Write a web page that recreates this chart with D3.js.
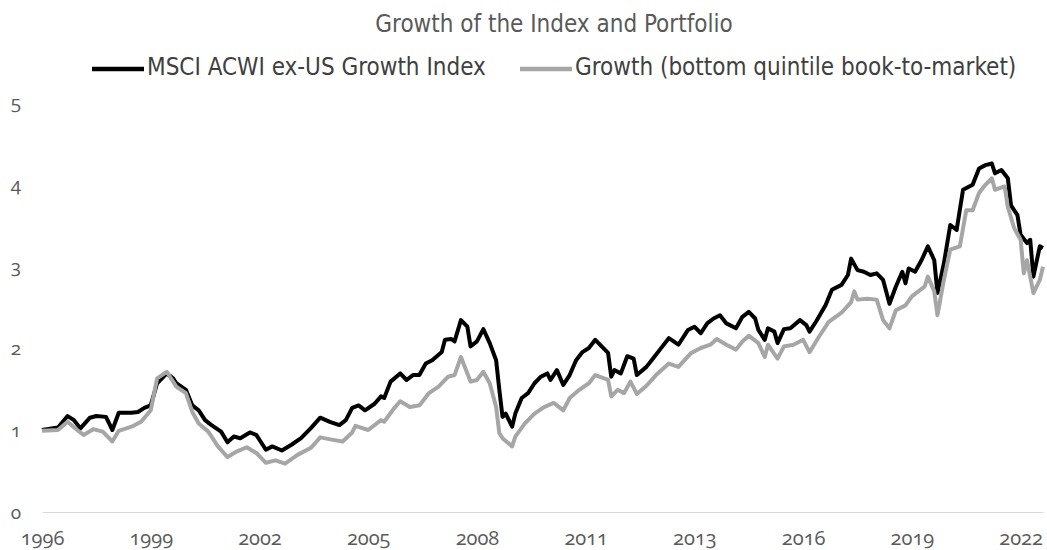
<!DOCTYPE html>
<html>
<head>
<meta charset="utf-8">
<script src="https://cdn.jsdelivr.net/npm/d3@7/dist/d3.min.js"></script>
<style>
  html, body { margin: 0; padding: 0; background: #fff; }
  #chart { width: 1047px; height: 550px; }
  .lbl { font-family: "Open Sans", "Noto Sans", Lato, sans-serif; font-variant-numeric: oldstyle-nums; font-feature-settings: "onum" 1; fill: #595959; }
  .txt { font-family: "DejaVu Sans Condensed", "DejaVu Sans", sans-serif; font-stretch: condensed; }
</style>
</head>
<body>
<div id="chart"></div>
<script>
// Months counted from the first observation (late 1996)
const TOTAL_MONTHS = 313;

// Axis ticks: one label every 34 months
const tickMonths = [0, 34, 68, 102, 136, 170, 204, 238, 272, 306];
const tickLabels = ["1996", "1999", "2002", "2005", "2008", "2011", "2013", "2016", "2019", "2022"];
const yTicks = [0, 1, 2, 3, 4, 5];

const seriesNames = ["MSCI ACWI ex-US Growth Index", "Growth (bottom quintile book-to-market)"];

// MSCI ACWI ex-US Growth Index (growth of $1)
const indexMonths = [0, 5, 8, 10, 12, 15, 17, 20, 22, 24, 28, 30, 32, 34, 36, 39, 41, 42, 45, 47,
  49, 51, 53, 56, 58, 60, 62, 65, 67, 69, 70, 72, 75, 78, 81, 84, 87, 90, 93, 95,
  97, 99, 101, 104, 106, 107, 109, 112, 114, 116, 118, 120, 122, 125, 126, 128, 129, 131, 133, 134,
  136, 138, 140, 142, 143, 144, 145, 147, 148, 150, 152, 154, 156, 158, 159, 161, 163, 165, 167, 169,
  171, 173, 175, 177, 178, 179, 181, 183, 185, 186, 189, 191, 194, 196, 199, 202, 204, 206, 208, 210,
  212, 214, 217, 219, 221, 223, 224, 226, 227, 229, 230, 232, 234, 237, 239, 240, 242, 245, 247, 250,
  252, 253, 255, 257, 259, 261, 263, 265, 267, 269, 270, 271, 273, 275, 277, 279, 280, 282, 284, 286,
  288, 291, 293, 295, 297, 298, 300, 302, 303, 305, 306, 308, 309, 310, 312, 313];
const indexValues = [1.00, 1.03, 1.17, 1.12, 1.02, 1.15, 1.17, 1.16, 1.00, 1.21, 1.21, 1.22, 1.27, 1.30, 1.57, 1.69, 1.63, 1.57, 1.49, 1.30,
  1.24, 1.12, 1.06, 0.98, 0.85, 0.92, 0.90, 0.97, 0.94, 0.82, 0.76, 0.80, 0.75, 0.82, 0.90, 1.02, 1.15, 1.10, 1.06, 1.12,
  1.27, 1.30, 1.24, 1.32, 1.41, 1.39, 1.59, 1.69, 1.61, 1.67, 1.67, 1.81, 1.85, 1.95, 2.10, 2.11, 2.08, 2.34, 2.26, 2.02,
  2.08, 2.23, 2.06, 1.85, 1.49, 1.16, 1.20, 1.04, 1.20, 1.39, 1.45, 1.57, 1.65, 1.69, 1.61, 1.73, 1.55, 1.67, 1.85, 1.95,
  2.00, 2.10, 2.02, 1.94, 1.65, 1.73, 1.69, 1.90, 1.87, 1.67, 1.77, 1.87, 2.02, 2.12, 2.04, 2.22, 2.26, 2.18, 2.30, 2.36,
  2.40, 2.30, 2.24, 2.38, 2.44, 2.36, 2.22, 2.10, 2.24, 2.20, 2.06, 2.23, 2.24, 2.34, 2.28, 2.20, 2.32, 2.52, 2.71, 2.77,
  2.89, 3.09, 2.95, 2.93, 2.89, 2.91, 2.83, 2.54, 2.75, 2.93, 2.79, 2.97, 2.93, 3.07, 3.24, 3.07, 2.67, 3.03, 3.50, 3.44,
  3.93, 3.99, 4.19, 4.23, 4.25, 4.13, 4.17, 4.07, 3.74, 3.62, 3.38, 3.28, 3.32, 2.87, 3.24, 3.22];

// Growth portfolio (bottom quintile book-to-market)
const growthMonths = [0, 5, 8, 11, 13, 16, 19, 22, 24, 28, 31, 34, 36, 39, 42, 45, 47, 49, 52, 55,
  58, 61, 64, 67, 70, 73, 76, 80, 84, 87, 91, 94, 97, 98, 102, 106, 107, 110, 112, 115,
  118, 121, 124, 127, 129, 131, 134, 136, 138, 140, 142, 143, 144, 147, 148, 151, 154, 157, 160, 163,
  165, 168, 171, 173, 177, 178, 180, 182, 184, 186, 189, 192, 196, 199, 203, 206, 209, 211, 214, 217,
  219, 221, 224, 226, 227, 230, 232, 235, 238, 240, 243, 246, 250, 253, 254, 255, 258, 261, 263, 265,
  267, 270, 272, 276, 277, 279, 280, 282, 284, 287, 289, 291, 293, 295, 297, 298, 301, 302, 304, 306,
  307, 308, 310, 312, 313];
const growthValues = [0.99, 1.00, 1.10, 1.00, 0.94, 1.01, 0.98, 0.86, 0.99, 1.04, 1.10, 1.24, 1.63, 1.71, 1.53, 1.45, 1.22, 1.08, 0.98, 0.80,
  0.67, 0.74, 0.79, 0.72, 0.60, 0.63, 0.59, 0.70, 0.78, 0.91, 0.88, 0.86, 0.97, 1.05, 1.00, 1.12, 1.10, 1.26, 1.35, 1.28,
  1.30, 1.45, 1.53, 1.65, 1.67, 1.89, 1.59, 1.61, 1.71, 1.57, 1.28, 0.96, 0.90, 0.80, 0.92, 1.08, 1.20, 1.28, 1.33, 1.24,
  1.39, 1.49, 1.57, 1.67, 1.61, 1.41, 1.49, 1.45, 1.59, 1.44, 1.54, 1.67, 1.81, 1.77, 1.94, 2.00, 2.04, 2.11, 2.04, 1.98,
  2.08, 2.15, 2.06, 1.89, 2.04, 1.87, 2.02, 2.04, 2.10, 1.95, 2.14, 2.32, 2.43, 2.56, 2.69, 2.59, 2.60, 2.59, 2.34, 2.24,
  2.46, 2.52, 2.63, 2.75, 2.87, 2.69, 2.40, 2.83, 3.20, 3.24, 3.68, 3.68, 3.89, 3.99, 4.07, 3.93, 3.97, 3.72, 3.46, 3.32,
  2.91, 3.07, 2.67, 2.83, 2.99];

const width = 1047, height = 550;
const svg = d3.select("#chart").append("svg")
    .attr("width", width)
    .attr("height", height);

const x = d3.scaleLinear().domain([0, TOTAL_MONTHS]).range([42, 1043]);
const y = d3.scaleLinear().domain([0, 5]).range([512, 102]);

// Title
svg.append("text")
    .attr("class", "txt")
    .attr("x", 554)
    .attr("y", 32)
    .attr("text-anchor", "middle")
    .style("font-size", "24px")
    .style("fill", "#595959")
    .text("Growth of the Index and Portfolio");

// Legend
const legend = [
  { name: seriesNames[0], color: "#000000", x0: 92, tx: 147 },
  { name: seriesNames[1], color: "#a6a6a6", x0: 520, tx: 575 }
];
legend.forEach(d => {
  svg.append("line")
      .attr("x1", d.x0).attr("x2", d.x0 + 52)
      .attr("y1", 69).attr("y2", 69)
      .attr("stroke", d.color)
      .attr("stroke-width", 4.5);
  svg.append("text")
      .attr("class", "txt")
      .attr("x", d.tx)
      .attr("y", 75)
      .style("font-size", "24px")
      .style("fill", "#404040")
      .text(d.name);
});

// X axis (zero line with year labels)
const xAxis = svg.append("g")
    .attr("transform", "translate(0," + y(0) + ")")
    .call(d3.axisBottom(x)
        .tickValues(tickMonths)
        .tickFormat((d, i) => tickLabels[i])
        .tickSize(0)
        .tickPadding(19));
xAxis.select(".domain").attr("stroke", "#d9d9d9").attr("stroke-width", 1);
xAxis.selectAll("text").attr("class", "lbl").style("font-size", "20px");

// Y axis (labels only)
const yAxis = svg.append("g")
    .attr("transform", "translate(25,0)")
    .call(d3.axisLeft(y).tickValues(yTicks).tickFormat(d3.format("d")).tickSize(0).tickPadding(4));
yAxis.select(".domain").remove();
yAxis.selectAll("text").attr("class", "lbl").style("font-size", "19px");

// Lines
const line = d3.line()
    .x(d => x(d[0]))
    .y(d => y(d[1]));

const indexData = indexMonths.map((m, i) => [m, indexValues[i]]);
const growthData = growthMonths.map((m, i) => [m, growthValues[i]]);

svg.append("path")
    .datum(indexData)
    .attr("fill", "none")
    .attr("stroke", "#000000")
    .attr("stroke-width", 4)
    .attr("stroke-linejoin", "round")
    .attr("d", line);

svg.append("path")
    .datum(growthData)
    .attr("fill", "none")
    .attr("stroke", "#a6a6a6")
    .attr("stroke-width", 4)
    .attr("stroke-linejoin", "round")
    .attr("d", line);
</script>
</body>
</html>
